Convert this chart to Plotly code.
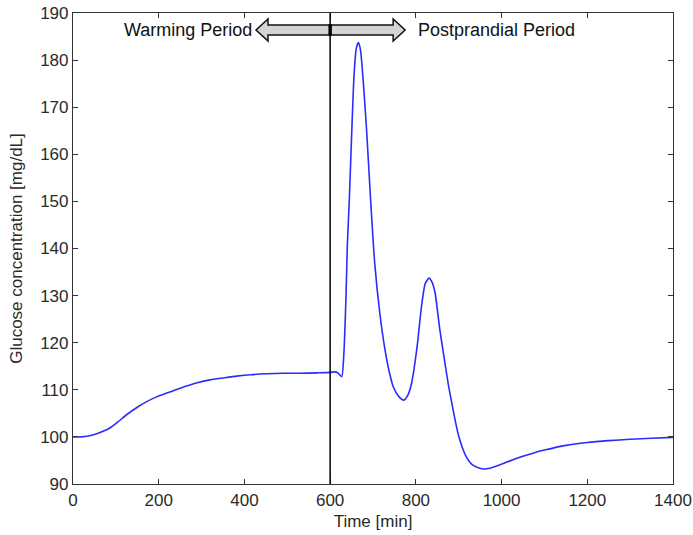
import plotly.graph_objects as go

# Glucose curve (time in min, glucose in mg/dL)
time_min = [0, 20, 36, 50, 70, 86, 105, 125, 150, 172, 195, 219, 240, 265, 290, 320, 350, 382,
            415, 452, 490, 530, 570, 600, 611, 618, 627, 632, 637, 640, 645, 650, 656, 661,
            666, 671, 677, 685, 694, 704, 716, 728, 737, 747, 760, 772, 781, 790, 803, 813,
            822, 831, 838, 845, 856, 868, 876, 884, 892, 899, 909, 918, 930, 944, 958, 975,
            1000, 1025, 1050, 1075, 1100, 1150, 1200, 1250, 1300, 1350, 1400]
glucose = [100.0, 100.0, 100.2, 100.5, 101.2, 101.9, 103.2, 104.7, 106.3, 107.5, 108.5, 109.3,
           110.0, 110.8, 111.5, 112.1, 112.5, 112.9, 113.2, 113.4, 113.5, 113.5, 113.6, 113.7,
           113.8, 113.6, 112.8, 117.7, 129.8, 140.4, 151.0, 163.7, 177.2, 182.5, 183.7, 182.0,
           175.8, 165.2, 151.0, 136.9, 126.2, 118.5, 114.2, 110.7, 108.6, 107.8, 108.8, 111.4,
           119.2, 127.6, 132.6, 133.7, 132.8, 130.5, 122.7, 115.6, 111.0, 107.1, 103.4, 100.5,
           97.6, 95.7, 94.2, 93.5, 93.2, 93.4, 94.2, 95.1, 95.9, 96.6, 97.2, 98.2, 98.8, 99.2,
           99.5, 99.7, 99.9]

x_ticks = [0, 200, 400, 600, 800, 1000, 1200, 1400]
y_ticks = [90, 100, 110, 120, 130, 140, 150, 160, 170, 180, 190]
meal_split = 600
label_warm = "Warming Period"
label_post = "Postprandial Period"

FONT = "Liberation Sans Narrow, Liberation Sans, Arial, sans-serif"

fig = go.Figure()
fig.add_trace(go.Scatter(x=time_min, y=glucose, mode="lines",
                         line=dict(color="#2b2bff", width=1.6, shape="spline", smoothing=0.6),
                         hoverinfo="skip", showlegend=False))

# vertical line separating periods
fig.add_shape(type="line", xref="x", yref="y", x0=meal_split, x1=meal_split, y0=90, y1=190,
              line=dict(color="black", width=1.5))

# double-headed arrow
yc, hb, hh = 186.4, 1.06, 2.34
xl, xr, hl = 427, 775, 28
path = (f"M {xl},{yc} L {xl+hl},{yc+hh} L {xl+hl},{yc+hb} L {xr-hl},{yc+hb} "
        f"L {xr-hl},{yc+hh} L {xr},{yc} L {xr-hl},{yc-hh} L {xr-hl},{yc-hb} "
        f"L {xl+hl},{yc-hb} L {xl+hl},{yc-hh} Z")
fig.add_shape(type="path", xref="x", yref="y", path=path,
              fillcolor="#d4d4d4", line=dict(color="#111", width=1.5))
fig.add_shape(type="rect", xref="x", yref="y", x0=meal_split-4, x1=meal_split+4,
              y0=yc-1.2, y1=yc+1.2, fillcolor="black", line=dict(width=0))

fig.add_annotation(x=423, y=yc, xref="x", yref="y", text=label_warm, showarrow=False,
                   xanchor="right", yanchor="middle",
                   font=dict(family=FONT, size=18, color="#111"))
fig.add_annotation(x=800, y=yc, xref="x", yref="y", text=label_post, showarrow=False,
                   xanchor="left", yanchor="middle",
                   font=dict(family=FONT, size=18, color="#111"))

axis_common = dict(showgrid=False, zeroline=False, showline=True, linecolor="#333",
                   linewidth=1.2, mirror="allticks", ticks="inside", ticklen=5,
                   tickcolor="#333", tickwidth=1, automargin=False,
                   tickfont=dict(family=FONT, size=17, color="#2a2a2a"))

fig.update_xaxes(range=[0, 1400], tickvals=x_ticks,
                 title=dict(text="Time [min]", font=dict(family=FONT, size=17, color="#2a2a2a"),
                            standoff=6),
                 **axis_common)
fig.update_yaxes(range=[90, 190], tickvals=y_ticks,
                 title=dict(text="Glucose concentration [mg/dL]",
                            font=dict(family=FONT, size=17, color="#2a2a2a"), standoff=13),
                 **axis_common)

fig.update_layout(width=693, height=535, margin=dict(l=73, r=20, t=13, b=51),
                  plot_bgcolor="white", paper_bgcolor="white")

fig.write_html("out.html")
